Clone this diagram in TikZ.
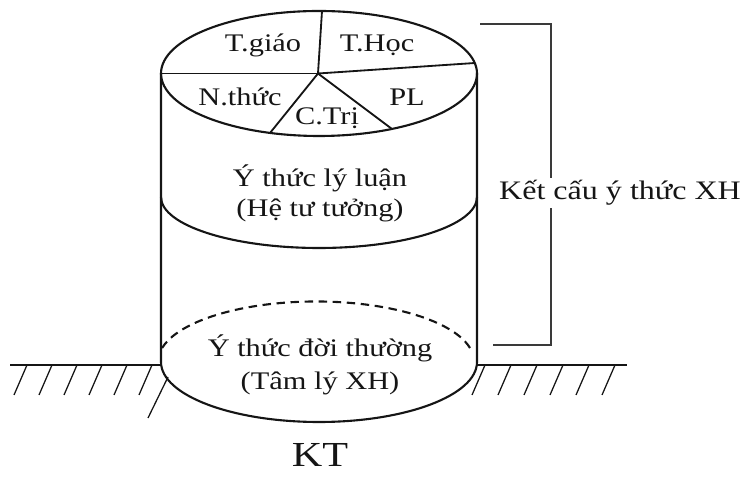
\documentclass[tikz,border=0pt]{standalone}
\usepackage{fontspec}
\setmainfont[FakeStretch=1.2]{Liberation Serif}
\usetikzlibrary{positioning, calc}
\definecolor{cink}{HTML}{151515}
\definecolor{cgrey}{HTML}{3A3A3A}
\tikzset{
  every picture/.style={x=0.025cm, y=0.025cm, line width=1.4pt},
  lbl/.style={font=\fontsize{18}{20}\selectfont, inner sep=1pt, text=cink},
  outline/.style={draw=cink, line width=1.5pt},
  spoke/.style={draw=cink, line width=1.3pt},
  ground/.style={draw=cink, line width=1.3pt},
  hatch/.style={draw=cink, line width=0.9pt},
  bracket/.style={draw=cgrey, line width=0.9pt},
}

\begin{document}
\begin{tikzpicture}
  \useasboundingbox (0,0) rectangle (748,478);
  % ground and hatching
  \draw[ground] (10,113) -- (161,113);
  \draw[ground] (477,113) -- (627,113);
  \foreach \x in {14,39,...,139} \draw[hatch] (\x,83) -- ++(13,30);
  \foreach \x in {472,498,...,602} \draw[hatch] (\x,83) -- ++(13,30);
  \draw[hatch] (148,60) -- (168,101);
  % cylinder
  \draw[outline] (161,404.5) -- (161,116) arc[start angle=180, end angle=360, x radius=158, y radius=60] -- (477,404.5);
  \draw[outline] (319,404.5) ellipse[x radius=158, y radius=62.5];
  \draw[outline] (161,281) arc[start angle=180, end angle=360, x radius=158, y radius=51];
  \draw[outline, dash pattern=on 6pt off 4pt] (470,130) arc[start angle=13, end angle=167, x radius=158, y radius=60];
  % pie on the lid
  \coordinate (pc) at (318,404.5);
  \coordinate (pTop) at (322,467);
  \coordinate (pLeft) at (161,404.5);
  \coordinate (pRight) at (475,415);
  \coordinate (pLowL) at (270,345);
  \coordinate (pLowR) at (392,349);
  \foreach \p in {pTop,pLeft,pRight,pLowL,pLowR} \draw[spoke] (pc) -- (\p);
  \node[lbl] (tgiao) at (263,433) {T.giáo};
  \node[lbl] (thoc) at (377,433) {T.Học};
  \node[lbl] (nthuc) at (240,381) {N.thức};
  \node[lbl] (ctri) at (327,360) {C.Trị};
  \node[lbl] (pl) at (407,381) {PL};
  % levels
  \node[lbl] (lyluan) at (320,300) {Ý thức lý luận};
  \node[lbl] (hetu) at (320,268) {(Hệ tư tưởng)};
  \node[lbl] (doithuong) at (320,130) {Ý thức đời thường};
  \node[lbl] (tamly) at (320,95) {(Tâm lý XH)};
  \node[lbl, font=\fontsize{25}{28}\selectfont] (kt) at (320,23) {KT};
  % bracket
  \coordinate (bTop) at (480,454);
  \coordinate (bBot) at (493,133);
  \coordinate (bx) at (551,0);
  \node[lbl, font=\fontsize{19}{22}\selectfont] (ketcau) at (620,285) {Kết cấu ý thức XH};
  \draw[bracket] (bTop) -| (ketcau.north -| bx);
  \draw[bracket] (bBot) -| (ketcau.south -| bx);
\end{tikzpicture}
\end{document}
